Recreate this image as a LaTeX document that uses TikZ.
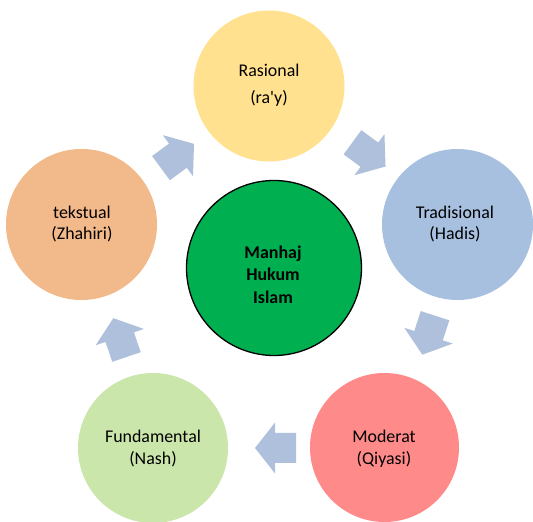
\documentclass[tikz,border=0pt]{standalone}
\usepackage{fontspec}
\setmainfont{Carlito}
\definecolor{cyellow}{HTML}{FFE190}
\definecolor{cblue}{HTML}{A8C0E0}
\definecolor{corange}{HTML}{F2B98A}
\definecolor{cred}{HTML}{FF8A8A}
\definecolor{cgreenl}{HTML}{CAE6AB}
\definecolor{cgreen}{HTML}{00B050}
\definecolor{arrowc}{HTML}{AFC0DC}
\begin{document}
\begin{tikzpicture}[x=1pt,y=1pt,
  outer/.style={circle, minimum size=151pt, inner sep=0pt, draw=none},
  lbl/.style={align=center, inner sep=0pt, font=\fontsize{17.9}{21.5}\selectfont},
  blbl/.style={align=center, inner sep=0pt, font=\fontsize{17.9}{22.5}\selectfont\bfseries},
  blockarrow/.style={fill=arrowc, draw=none}]
\useasboundingbox (0,0) rectangle (533,522);
% circles
\node[outer, fill=cyellow] (top) at (269,436) {};
\node[outer, fill=cblue] (right) at (457.5,297.5) {};
\node[outer, fill=cred, minimum size=149pt] (br) at (384.5,74.5) {};
\node[outer, fill=cgreenl, minimum size=150pt] (bl) at (153,74) {};
\node[outer, fill=corange] (left) at (81.5,297.5) {};
\node[circle, minimum size=175pt, inner sep=0pt, draw=black, line width=1.3pt, fill=cgreen] (center) at (274,254) {};
% texts
\node[lbl, font=\fontsize{17.9}{27}\selectfont] (ttop) at (269,436.5) {Rasional\\(ra\textquotesingle y)};
\node[lbl] (tright) at (455,298) {Tradisional\\(Hadis)};
\node[lbl] (tbr) at (384,73.5) {Moderat\\(Qiyasi)};
\node[lbl] (tbl) at (153,73.5) {Fundamental\\(Nash)};
\node[lbl] (tleft) at (82,298) {tekstual\\(Zhahiri)};
\node[blbl] (tcenter) at (273,247.5) {Manhaj\\Hukum\\Islam};
% block arrows
\foreach \cx/\cy/\ang in {177.5/366/36.3, 369/367.6/-36.2, 428.7/186.8/252, 275.5/74/180, 119.9/184.4/108.7}{
  \fill[blockarrow, shift={(\cx,\cy)}, rotate=\ang]
    (-20.5,-15) -- (0.5,-15) -- (0.5,-25.5) -- (20.5,0) -- (0.5,25.5) -- (0.5,15) -- (-20.5,15) -- cycle;
}
\end{tikzpicture}
\end{document}
